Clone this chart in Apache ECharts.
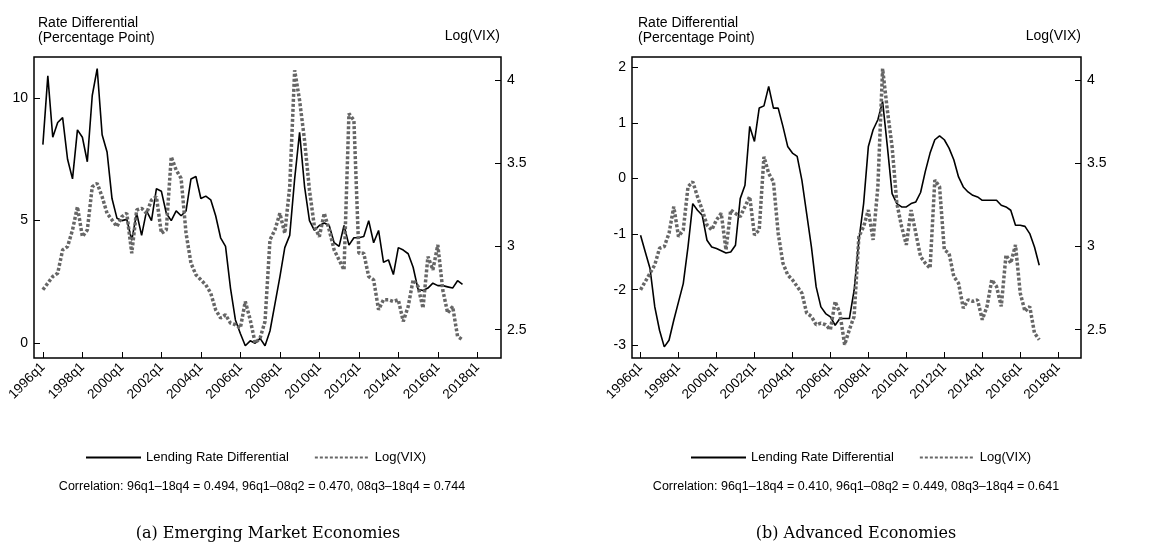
<!DOCTYPE html>
<html>
<head>
<meta charset="utf-8">
<script src="https://cdn.jsdelivr.net/npm/echarts@6/dist/echarts.min.js"></script>
<style>
  html, body { margin: 0; padding: 0; background: #fff; }
  #main { width: 1166px; height: 556px; }
</style>
</head>
<body>
<div id="main"></div>
<script>
// quarter index: 0 = 1996q1
const tickQuarters = [0, 8, 16, 24, 32, 40, 48, 56, 64, 72, 80, 88];

const emLending = [8.1, 10.9, 8.4, 9.0, 9.2, 7.5, 6.7, 8.7, 8.4, 7.4, 10.1, 11.2, 8.5, 7.8, 5.9, 5.1,
  5.0, 5.05, 4.2, 5.3, 4.4, 5.4, 5.0, 6.3, 6.2, 5.3, 5.0, 5.4, 5.2, 5.4, 6.7, 6.8,
  5.9, 6.0, 5.85, 5.2, 4.3, 3.95, 2.25, 0.95, 0.4, -0.1, 0.1, 0.0, 0.2, -0.1, 0.5, 1.6,
  2.7, 3.9, 4.4, 6.7, 8.6, 6.4, 5.0, 4.6, 4.8, 4.9, 4.8, 4.1, 3.95, 4.8, 4.0, 4.3,
  4.3, 4.35, 5.0, 4.1, 4.6, 3.3, 3.4, 2.8, 3.9, 3.8, 3.65, 3.1, 2.2, 2.15, 2.25, 2.45,
  2.35, 2.35, 2.3, 2.25, 2.55, 2.4];

const emVix = [2.74, 2.78, 2.82, 2.84, 2.98, 3.00, 3.10, 3.24, 3.06, 3.10, 3.36, 3.38, 3.30, 3.20, 3.16, 3.12,
  3.18, 3.20, 2.96, 3.22, 3.23, 3.20, 3.28, 3.30, 3.08, 3.10, 3.54, 3.46, 3.41, 3.08, 2.90, 2.83,
  2.80, 2.77, 2.72, 2.62, 2.57, 2.59, 2.54, 2.53, 2.51, 2.67, 2.56, 2.42, 2.45, 2.55, 3.04, 3.10,
  3.20, 3.08, 3.36, 4.06, 3.88, 3.64, 3.34, 3.12, 3.06, 3.20, 3.10, 2.98, 2.92, 2.86, 3.80, 3.76,
  2.96, 2.96, 2.82, 2.80, 2.62, 2.68, 2.68, 2.67, 2.68, 2.55, 2.64, 2.80, 2.76, 2.63, 2.94, 2.86,
  3.01, 2.74, 2.60, 2.64, 2.46, 2.44];

const aeLending = [-1.02, -1.32, -1.62, -2.31, -2.73, -3.03, -2.91, -2.55, -2.22, -1.89, -1.23, -0.45, -0.57, -0.66, -1.11, -1.23,
  -1.26, -1.30, -1.34, -1.32, -1.20, -0.36, -0.12, 0.94, 0.67, 1.27, 1.31, 1.66, 1.27, 1.27, 0.94, 0.58,
  0.46, 0.40, -0.03, -0.63, -1.23, -1.95, -2.31, -2.43, -2.49, -2.64, -2.52, -2.52, -2.52, -2.01, -1.11, -0.45,
  0.58, 0.88, 1.06, 1.39, 0.58, -0.27, -0.45, -0.51, -0.51, -0.45, -0.42, -0.25, 0.13, 0.46, 0.70, 0.77,
  0.70, 0.55, 0.34, 0.03, -0.15, -0.24, -0.30, -0.33, -0.39, -0.39, -0.39, -0.39, -0.48, -0.51, -0.57, -0.84,
  -0.84, -0.86, -0.99, -1.23, -1.56];

const aeVix = [2.74, 2.79, 2.84, 2.89, 2.99, 3.00, 3.08, 3.24, 3.06, 3.10, 3.36, 3.39, 3.30, 3.22, 3.13, 3.10,
  3.16, 3.20, 2.98, 3.22, 3.20, 3.18, 3.24, 3.30, 3.07, 3.10, 3.54, 3.44, 3.39, 3.08, 2.90, 2.83,
  2.80, 2.76, 2.72, 2.60, 2.58, 2.53, 2.54, 2.53, 2.50, 2.67, 2.60, 2.41, 2.50, 2.58, 3.06, 3.12,
  3.22, 3.04, 3.36, 4.07, 3.82, 3.60, 3.26, 3.12, 3.01, 3.22, 3.08, 2.94, 2.90, 2.87, 3.40, 3.36,
  2.98, 2.96, 2.82, 2.78, 2.63, 2.68, 2.67, 2.68, 2.56, 2.64, 2.80, 2.76, 2.64, 2.95, 2.90, 3.01,
  2.72, 2.61, 2.64, 2.48, 2.44];

const legendNames = ['Lending Rate Differential', 'Log(VIX)'];
const corrTexts = [
  'Correlation: 96q1\u201318q4 = 0.494, 96q1\u201308q2 = 0.470, 08q3\u201318q4 = 0.744',
  'Correlation: 96q1\u201318q4 = 0.410, 96q1\u201308q2 = 0.449, 08q3\u201318q4 = 0.641'
];
const captions = ['(a) Emerging Market Economies', '(b) Advanced Economies'];

const pairs = arr => arr.map((v, i) => [i, v]);
const font = 'Liberation Sans, Arial, sans-serif';
const txt = { color: '#000', fontFamily: font, fontSize: 13 };

function xAxis(gi) {
  return {
    type: 'value', gridIndex: gi, min: -1.8, max: 92.8,
    axisLine: { show: false, onZero: false },
    axisTick: { inside: true, length: 6, customValues: tickQuarters, lineStyle: { color: '#000' } },
    axisLabel: { ...txt, fontSize: 13.5, rotate: 45, margin: 7, customValues: tickQuarters,
      formatter: v => (1996 + v / 4) + 'q1' },
    splitLine: { show: false }
  };
}
function yAxis(gi, pos, min, max, ticks) {
  return {
    type: 'value', gridIndex: gi, position: pos, min: min, max: max,
    axisLine: { show: false, onZero: false },
    axisTick: { inside: true, length: 6, lineStyle: { color: '#000' }, customValues: ticks },
    axisLabel: { ...txt, fontSize: 14, margin: 6, customValues: ticks },
    splitLine: { show: false }
  };
}

const grids = [
  { left: 34, top: 57, width: 467, height: 301 },
  { left: 632, top: 57, width: 449, height: 301 }
].map(g => ({ ...g, show: true, borderColor: '#000', borderWidth: 1.5, backgroundColor: 'transparent' }));

function lineSeries(name, xi, yi, data, dotted) {
  return {
    name: name, type: 'line', xAxisIndex: xi, yAxisIndex: yi, data: pairs(data),
    symbol: 'none', showSymbol: false, animation: false,
    lineStyle: dotted ? { color: '#666', width: 3.5, type: [3, 2] } : { color: '#000', width: 1.6 }
  };
}

const legendBase = { top: 446, itemWidth: 55, itemHeight: 10, itemGap: 25, textStyle: txt,
  data: legendNames, selectedMode: false, itemStyle: { opacity: 0 } };

const option = {
  animation: false,
  grid: grids,
  xAxis: [xAxis(0), xAxis(1)],
  yAxis: [
    yAxis(0, 'left', -0.6, 11.67, [0, 5, 10]),
    yAxis(0, 'right', 2.33, 4.14, [2.5, 3, 3.5, 4]),
    yAxis(1, 'left', -3.23, 2.19, [-3, -2, -1, 0, 1, 2]),
    yAxis(1, 'right', 2.33, 4.14, [2.5, 3, 3.5, 4])
  ],
  legend: [
    { ...legendBase, left: 80 },
    { ...legendBase, left: 685 }
  ],
  series: [
    lineSeries(legendNames[0], 0, 0, emLending, false),
    lineSeries(legendNames[1], 0, 1, emVix, true),
    lineSeries(legendNames[0], 1, 2, aeLending, false),
    lineSeries(legendNames[1], 1, 3, aeVix, true)
  ],
  graphic: [
    { type: 'text', left: 38, top: 16, style: { text: 'Rate Differential\n(Percentage Point)', font: '14px ' + font, fill: '#000', lineHeight: 15 } },
    { type: 'text', right: 1166 - 500, top: 29, style: { text: 'Log(VIX)', font: '14px ' + font, fill: '#000' } },
    { type: 'text', left: 638, top: 16, style: { text: 'Rate Differential\n(Percentage Point)', font: '14px ' + font, fill: '#000', lineHeight: 15 } },
    { type: 'text', right: 1166 - 1081, top: 29, style: { text: 'Log(VIX)', font: '14px ' + font, fill: '#000' } },
    { type: 'text', x: 262, y: 480, style: { text: corrTexts[0], font: '12.5px ' + font, fill: '#000', align: 'center' } },
    { type: 'text', x: 856, y: 480, style: { text: corrTexts[1], font: '12.5px ' + font, fill: '#000', align: 'center' } },
    { type: 'text', x: 268, y: 526, style: { text: captions[0], font: '16px "DejaVu Serif", serif', fill: '#000', align: 'center' } },
    { type: 'text', x: 856, y: 526, style: { text: captions[1], font: '16px "DejaVu Serif", serif', fill: '#000', align: 'center' } }
  ]
};

const chart = echarts.init(document.getElementById('main'));
chart.setOption(option);
</script>
</body>
</html>
